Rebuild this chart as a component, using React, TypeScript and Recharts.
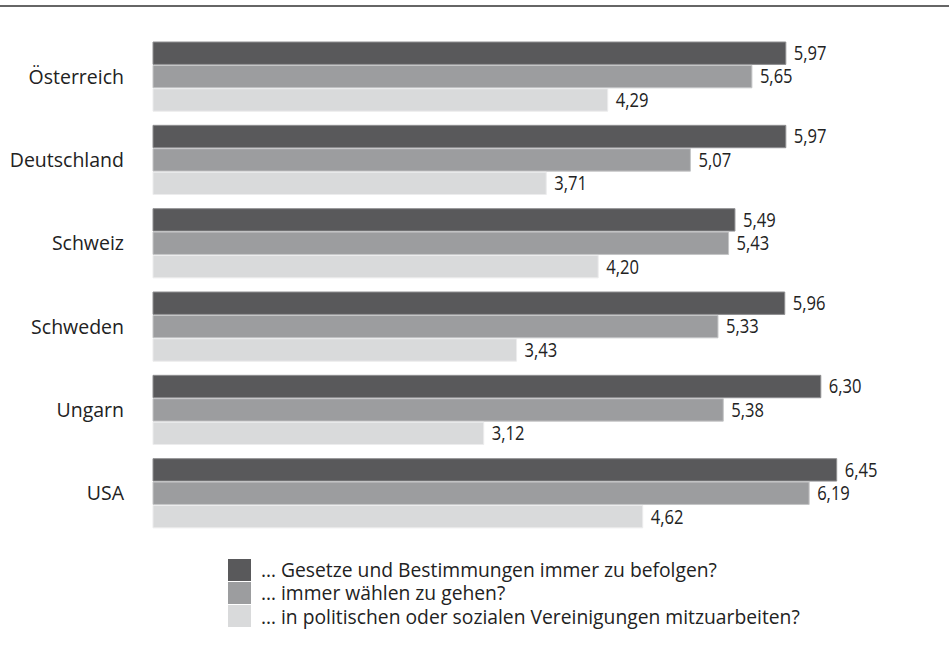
import { Bar, BarChart, LabelList, XAxis, YAxis } from 'recharts';

const COUNTRIES = ['Österreich', 'Deutschland', 'Schweiz', 'Schweden', 'Ungarn', 'USA'];
const GESETZE = [5.97, 5.97, 5.49, 5.96, 6.3, 6.45];
const WAEHLEN = [5.65, 5.07, 5.43, 5.33, 5.38, 6.19];
const VEREINE = [4.29, 3.71, 4.2, 3.43, 3.12, 4.62];

const SERIES = [
  { key: 'gesetze', name: '… Gesetze und Bestimmungen immer zu befolgen?', color: '#59595b', edge: '#8f8f91' },
  { key: 'waehlen', name: '… immer wählen zu gehen?', color: '#9c9d9f', edge: '#c4c5c6' },
  { key: 'vereine', name: '… in politischen oder sozialen Vereinigungen mitzuarbeiten?', color: '#d9dadb', edge: '#ececed' },
];

const data = COUNTRIES.map((name, i) => ({
  name,
  gesetze: GESETZE[i],
  waehlen: WAEHLEN[i],
  vereine: VEREINE[i],
}));

const TEXT = '#222';
const SANS = '"Open Sans", "Noto Sans", sans-serif';

const fmt = (v: number) => v.toFixed(2).replace('.', ',');

// condensed value label, squeezed horizontally like the print font
function ValueLabel(props: any) {
  const { x, y, width, height, value } = props;
  const tx = Number(x) + Number(width) + 8;
  const ty = Number(y) + Number(height) / 2;
  return (
    <text
      transform={`translate(${tx},${ty}) scale(0.85,1)`}
      dy="0.35em"
      fill={TEXT}
      fontSize={19.5}
      fontFamily={SANS}
    >
      {fmt(Number(value))}
    </text>
  );
}

function LegendBox() {
  return (
    <div
      style={{
        position: 'absolute',
        left: 228,
        top: 558,
        fontFamily: SANS,
        fontSize: 19.3,
        lineHeight: '23px',
        color: TEXT,
      }}
    >
      {SERIES.map((s) => (
        <div key={s.key} style={{ display: 'flex', alignItems: 'center', height: 23.3 }}>
          <span style={{ width: 23, height: 22.3, background: s.color, marginRight: 10, flex: 'none' }} />
          <span style={{ whiteSpace: 'nowrap' }}>{s.name}</span>
        </div>
      ))}
    </div>
  );
}

export default function App() {
  return (
    <div style={{ width: 949, height: 648, background: '#fff', position: 'relative' }}>
      <style>{`body{margin:0}`}</style>
      <div style={{ position: 'absolute', left: 0, top: 5, width: 949, height: 2, background: '#666' }} />
      <BarChart
        width={949}
        height={648}
        data={data}
        layout="vertical"
        margin={{ top: 35, right: 54, left: 0, bottom: 113 }}
        barSize={22.4}
        barGap={1}
      >
        <XAxis type="number" domain={[0, 7]} hide />
        <YAxis
          type="category"
          dataKey="name"
          width={153}
          axisLine={false}
          tickLine={false}
          tickSize={0}
          tickMargin={29}
          tick={{ fill: TEXT, fontSize: 19.5, fontFamily: SANS }}
        />
        {SERIES.map((s) => (
          <Bar key={s.key} dataKey={s.key} name={s.name} fill={s.color} stroke={s.edge} strokeWidth={1} isAnimationActive={false}>
            <LabelList dataKey={s.key} content={<ValueLabel />} />
          </Bar>
        ))}
      </BarChart>
      <LegendBox />
    </div>
  );
}
